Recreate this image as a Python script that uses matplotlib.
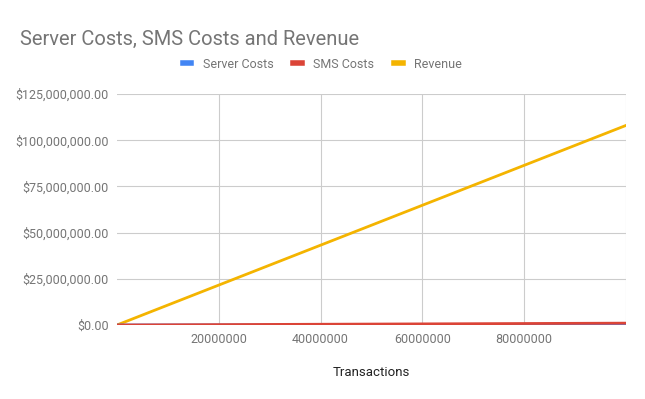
import matplotlib
matplotlib.use("Agg")
import matplotlib.pyplot as plt
from matplotlib.ticker import FuncFormatter

plt.rcParams["font.family"] = ["Roboto", "DejaVu Sans"]

# Data
transactions = [0, 20000000, 40000000, 60000000, 80000000, 100000000]
server_costs = [0, 20000, 40000, 60000, 80000, 100000]
sms_costs = [0, 200000, 400000, 600000, 800000, 1000000]
revenue = [0, 21600000, 43200000, 64800000, 86400000, 108000000]

x_ticks = [20000000, 40000000, 60000000, 80000000, 100000000]
x_tick_labels = ["20000000", "40000000", "60000000", "80000000", ""]
y_ticks = [0, 25000000, 50000000, 75000000, 100000000, 125000000]

grey = "#757575"

fig = plt.figure(figsize=(6.45, 3.99), dpi=100)
ax = fig.add_axes([117 / 645, 1 - 325 / 399, 509 / 645, 231 / 399])

ax.plot(transactions, revenue, color="#f4b400", lw=2, label="Revenue", zorder=3)
ax.plot(transactions, server_costs, color="#4285f4", lw=2, label="Server Costs", zorder=3)
ax.plot(transactions, sms_costs, color="#db4437", lw=2, label="SMS Costs", zorder=4)

ax.set_xlim(0, 100000000)
ax.set_ylim(0, 125000000)
ax.set_xticks(x_ticks)
ax.set_xticklabels(x_tick_labels)
ax.set_yticks(y_ticks)
ax.yaxis.set_major_formatter(FuncFormatter(lambda v, p: "${:,.2f}".format(v)))
ax.tick_params(length=0, labelsize=9, labelcolor=grey, pad=6)
ax.grid(True, color="#cccccc", lw=0.8)
for s in ax.spines.values():
    s.set_visible(False)
ax.set_xlabel("Transactions", fontsize=9.5, color="#222222", labelpad=14)

fig.text(20 / 645, 1 - 45 / 399, "Server Costs, SMS Costs and Revenue",
         fontsize=14.5, color=grey, va="baseline")

handles, labels = ax.get_legend_handles_labels()
order = [1, 2, 0]
fig.legend([handles[i] for i in order], [labels[i] for i in order],
           loc="center", bbox_to_anchor=(0.5, 1 - 64 / 399), ncol=3, frameon=False,
           fontsize=9, labelcolor=grey, handlelength=0.7, handletextpad=0.9,
           columnspacing=1.6)
for line in fig.legends[0].get_lines():
    line.set_linewidth(4)

fig.savefig("out.png", dpi=100)
